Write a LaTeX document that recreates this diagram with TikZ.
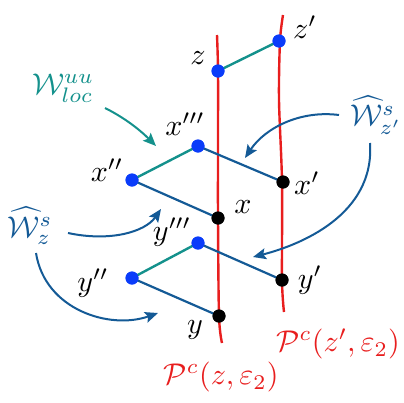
\documentclass[tikz,border=0pt]{standalone}
\usetikzlibrary{arrows.meta}
\definecolor{pred}{RGB}{232,30,30}
\definecolor{pteal}{RGB}{20,145,140}
\definecolor{pblue}{RGB}{20,90,150}
\definecolor{pdot}{RGB}{10,60,250}
\begin{document}
\begin{tikzpicture}[x=1pt,y=-1pt,
  redline/.style={pred,line width=2.4pt},
  uuseg/.style={pteal,line width=2.4pt},
  sseg/.style={pblue,line width=2.2pt},
  bdot/.style={circle,fill=pdot,inner sep=0pt,minimum size=13pt},
  kdot/.style={circle,fill=black,inner sep=0pt,minimum size=13pt},
  lab/.style={inner sep=0pt,scale=3.0},
  harrow/.style={line width=2pt,-{Stealth[length=13pt,width=11pt,inset=2.5pt]}},
]
\useasboundingbox (0,0) rectangle (404,402);
% red center plaques
\draw[redline] plot[smooth] coordinates {(217,35) (218,71) (218,146) (218,218) (219,316) (222,343)};
\draw[redline] plot[smooth] coordinates {(283,15) (280,41) (279,100) (282,182) (282,280) (284,312)};
% dots
\node[bdot] (z) at (218,71) {};
\node[bdot] (zp) at (279,41) {};
\node[bdot] (x3) at (198,146) {};
\node[bdot] (x2) at (132,180) {};
\node[kdot] (xp) at (283,182) {};
\node[kdot] (x) at (218,218) {};
\node[bdot] (y3) at (198,243) {};
\node[bdot] (y2) at (132,278) {};
\node[kdot] (yp) at (282,280) {};
\node[kdot] (y) at (219,316) {};
% segments
\draw[uuseg] (z.center) -- (zp.center);
\draw[uuseg] (x2.center) -- (x3.center);
\draw[uuseg] (y2.center) -- (y3.center);
\draw[sseg] (x2.center) -- (x.center);
\draw[sseg] (x3.center) -- (xp.center);
\draw[sseg] (y2.center) -- (y.center);
\draw[sseg] (y3.center) -- (yp.center);
% redraw dots on top
\foreach \n in {z,zp,x3,x2,y3,y2} \fill[pdot] (\n) circle (6.5pt);
\foreach \n in {xp,x,yp,y} \fill[black] (\n) circle (6.5pt);
% labels
\node[lab] (lz) at (198,58) {$z$};
\node[lab] (lzp) at (305,27) {$z'$};
\node[lab] (lx3) at (185,124) {$x'''$};
\node[lab] (lx2) at (107,170) {$x''$};
\node[lab] (lxp) at (307,183) {$x'$};
\node[lab] (lx) at (243,207) {$x$};
\node[lab] (ly3) at (172,232) {$y'''$};
\node[lab] (ly2) at (93,283) {$y''$};
\node[lab] (lyp) at (310,280) {$y'$};
\node[lab] (ly) at (195,330) {$y$};
\node[lab,text=pteal] (wuu) at (63,88) {$\mathcal{W}^{uu}_{loc}$};
\node[lab,text=pblue] (wsz) at (30,226) {$\widehat{\mathcal{W}}^{s}_{z}$};
\node[lab,text=pblue] (wszp) at (376,115) {$\widehat{\mathcal{W}}^{s}_{z'}$};
\node[lab,text=pred] (pzp) at (338,344) {$\mathcal{P}^c(z',\varepsilon_2)$};
\node[lab,text=pred] (pz) at (221,377) {$\mathcal{P}^c(z,\varepsilon_2)$};
% arrows
\coordinate (a1) at (156,146);
\coordinate (a2) at (245,158);
\coordinate (a3) at (253,257);
\coordinate (a4) at (161,209);
\coordinate (a5) at (158,313);
\draw[harrow,pteal] (105,108) .. controls (125,118) and (140,130) .. (a1);
\draw[harrow,pblue] (339,115) .. controls (300,110) and (265,128) .. (a2);
\draw[harrow,pblue] (370,143) .. controls (375,215) and (300,245) .. (a3);
\draw[harrow,pblue] (68,233) .. controls (110,242) and (145,232) .. (a4);
\draw[harrow,pblue] (36,253) .. controls (45,310) and (110,330) .. (a5);
\end{tikzpicture}
\end{document}
